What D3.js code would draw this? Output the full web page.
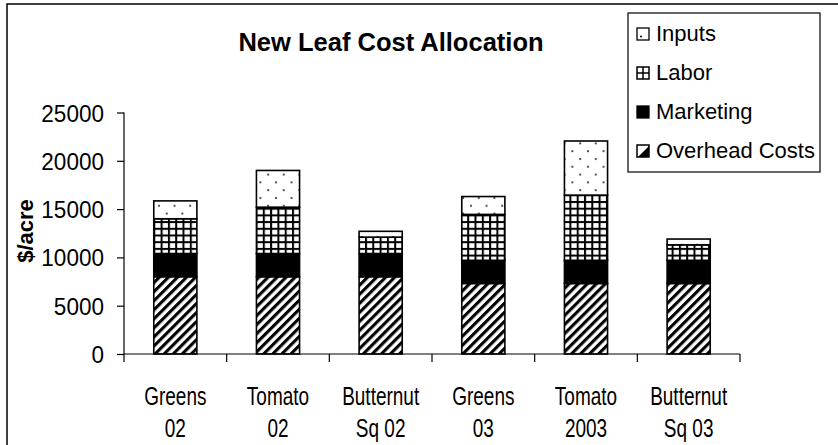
<!DOCTYPE html>
<html>
<head>
<meta charset="utf-8">
<script src="https://cdn.jsdelivr.net/npm/d3@7"></script>
<style>
  html, body { margin: 0; padding: 0; background: #fff; }
  svg { display: block; font-family: "Liberation Sans", Arial, sans-serif; }
</style>
</head>
<body>
<svg id="chart" width="838" height="445"></svg>
<script>
// ---- data ----
const categories = [["Greens", "02"], ["Tomato", "02"], ["Butternut", "Sq 02"], ["Greens", "03"], ["Tomato", "2003"], ["Butternut", "Sq 03"]];
const overhead  = [8000, 8000, 8000, 7300, 7300, 7300];
const marketing = [2400, 2400, 2400, 2400, 2400, 2400];
const labor     = [3600, 4800, 1700, 4750, 6750, 1600];
const inputs    = [1850, 3800, 600, 1850, 5600, 600];
const seriesNames = ["Overhead Costs", "Marketing", "Labor", "Inputs"];
const legendOrder = ["Inputs", "Labor", "Marketing", "Overhead Costs"];
const yTicks = [0, 5000, 10000, 15000, 20000, 25000];
const title = "New Leaf Cost Allocation";
const yTitle = "$/acre";

const svg = d3.select("#chart");
const defs = svg.append("defs");

// patterns
const pStripe = defs.append("pattern").attr("id", "p-overhead")
  .attr("patternUnits", "userSpaceOnUse").attr("width", 6.4).attr("height", 6.4)
  .attr("patternTransform", "rotate(45)");
pStripe.append("rect").attr("width", 6.4).attr("height", 6.4).attr("fill", "#fff");
pStripe.append("rect").attr("width", 3.1).attr("height", 6.4).attr("fill", "#000");

const pGrid = defs.append("pattern").attr("id", "p-labor")
  .attr("patternUnits", "userSpaceOnUse").attr("width", 7.3).attr("height", 6.7);
pGrid.append("rect").attr("width", 7.3).attr("height", 6.7).attr("fill", "#fff");
pGrid.append("rect").attr("width", 2).attr("height", 6.7).attr("fill", "#000");
pGrid.append("rect").attr("width", 7.3).attr("height", 2).attr("fill", "#000");

const pDots = defs.append("pattern").attr("id", "p-inputs")
  .attr("patternUnits", "userSpaceOnUse").attr("width", 15.6).attr("height", 15.6);
pDots.append("rect").attr("width", 15.6).attr("height", 15.6).attr("fill", "#fff");
pDots.append("circle").attr("cx", 3).attr("cy", 3).attr("r", 1.1).attr("fill", "#333");
pDots.append("circle").attr("cx", 10.8).attr("cy", 10.8).attr("r", 1.1).attr("fill", "#333");

const fills = {
  "Overhead Costs": "url(#p-overhead)",
  "Marketing": "#000",
  "Labor": "url(#p-labor)",
  "Inputs": "url(#p-inputs)"
};

// frame (chart area border, clipped by page)
svg.append("rect").attr("x", 7).attr("y", 4).attr("width", 900).attr("height", 600)
  .attr("fill", "none").attr("stroke", "#000").attr("stroke-width", 1.5);

// scales
const x = d3.scaleBand().domain(d3.range(categories.length))
  .range([124, 740]).paddingInner(0.58).paddingOuter(0.29);
const y = d3.scaleLinear().domain([0, 25000]).range([354, 112.5]);

// stacked data
const rows = categories.map((c, i) => ({
  i,
  "Overhead Costs": overhead[i],
  "Marketing": marketing[i],
  "Labor": labor[i],
  "Inputs": inputs[i]
}));
const stack = d3.stack().keys(seriesNames)(rows);

const g = svg.append("g");
stack.forEach(layer => {
  g.selectAll(null).data(layer).enter().append("rect")
    .attr("x", d => x(d.data.i))
    .attr("width", x.bandwidth())
    .attr("y", d => y(d[1]))
    .attr("height", d => y(d[0]) - y(d[1]))
    .attr("fill", fills[layer.key])
    .attr("stroke", "#000")
    .attr("stroke-width", 1.6);
});

// y axis
const yAxis = d3.axisLeft(y).tickValues(yTicks).tickSize(7).tickPadding(13).tickFormat(d3.format("d"));
const ya = svg.append("g").attr("transform", "translate(124,0)").call(yAxis);
ya.select(".domain").attr("stroke", "#000").attr("stroke-width", 1.2).attr("d", "M0,354V112.5");
ya.selectAll(".tick line").attr("stroke", "#000").attr("stroke-width", 1.2);
ya.selectAll(".tick text")
  .attr("x", null).attr("dy", null)
  .attr("transform", "translate(-20,8.5) scale(0.92,1)")
  .attr("font-size", 24.5).attr("fill", "#000")
  .attr("font-family", "Liberation Sans, Arial, sans-serif");

// x axis
const bounds = d3.range(categories.length + 1).map(k => 124 + k * x.step());
const xa = svg.append("g");
xa.append("line").attr("x1", 124).attr("x2", 740).attr("y1", 354).attr("y2", 354)
  .attr("stroke", "#000").attr("stroke-width", 1.2);
xa.selectAll(null).data(bounds).enter().append("line")
  .attr("x1", d => d).attr("x2", d => d).attr("y1", 354).attr("y2", 362)
  .attr("stroke", "#000").attr("stroke-width", 1.2);
const lab = xa.selectAll(null).data(categories).enter().append("g")
  .attr("transform", (d, i) => `translate(${x(i) + x.bandwidth() / 2},0)`)
  .append("text")
  .attr("transform", "scale(0.76,1)")
  .attr("text-anchor", "middle").attr("font-size", 25).attr("fill", "#000");
lab.append("tspan").attr("x", 0).attr("y", 405).text(d => d[0]);
lab.append("tspan").attr("x", 0).attr("y", 437).text(d => d[1]);

// y title
svg.append("text").attr("transform", "translate(33,231) rotate(-90)")
  .attr("text-anchor", "middle").attr("font-size", 22).attr("font-weight", "bold").text(yTitle);

// title
svg.append("text").attr("x", 391).attr("y", 51).attr("text-anchor", "middle")
  .attr("font-size", 25.5).attr("font-weight", "bold").text(title);

// legend
const lg = svg.append("g");
lg.append("rect").attr("x", 628).attr("y", 13).attr("width", 192).attr("height", 159)
  .attr("fill", "#fff").attr("stroke", "#000").attr("stroke-width", 1.2);
const baselines = [41, 80, 119, 158];
legendOrder.forEach((name, k) => {
  const bx = 637, by = baselines[k] - 13, s = 12;
  const ig = lg.append("g");
  if (name === "Inputs") {
    ig.append("rect").attr("x", bx).attr("y", by).attr("width", s).attr("height", s)
      .attr("fill", "#fff").attr("stroke", "#000").attr("stroke-width", 1.3);
    ig.append("circle").attr("cx", bx + 4).attr("cy", by + 8.5).attr("r", 1).attr("fill", "#000");
  } else if (name === "Labor") {
    ig.append("rect").attr("x", bx).attr("y", by).attr("width", s).attr("height", s)
      .attr("fill", "#fff").attr("stroke", "#000").attr("stroke-width", 1.5);
    ig.append("line").attr("x1", bx + 6).attr("x2", bx + 6).attr("y1", by).attr("y2", by + s).attr("stroke", "#000").attr("stroke-width", 1.5);
    ig.append("line").attr("x1", bx).attr("x2", bx + s).attr("y1", by + 6).attr("y2", by + 6).attr("stroke", "#000").attr("stroke-width", 1.5);
  } else if (name === "Marketing") {
    ig.append("rect").attr("x", bx).attr("y", by).attr("width", s).attr("height", s)
      .attr("fill", "#000").attr("stroke", "#000").attr("stroke-width", 1.3);
  } else {
    ig.append("rect").attr("x", bx).attr("y", by).attr("width", s).attr("height", s)
      .attr("fill", "#fff").attr("stroke", "#000").attr("stroke-width", 1.5);
    ig.append("path").attr("d", `M${bx + s},${by + 1}L${bx + s},${by + s}L${bx + 1},${by + s}Z`).attr("fill", "#000");
  }
  lg.append("text").attr("x", 656).attr("y", baselines[k]).attr("font-size", 22).attr("fill", "#000").text(name);
});
</script>
</body>
</html>
